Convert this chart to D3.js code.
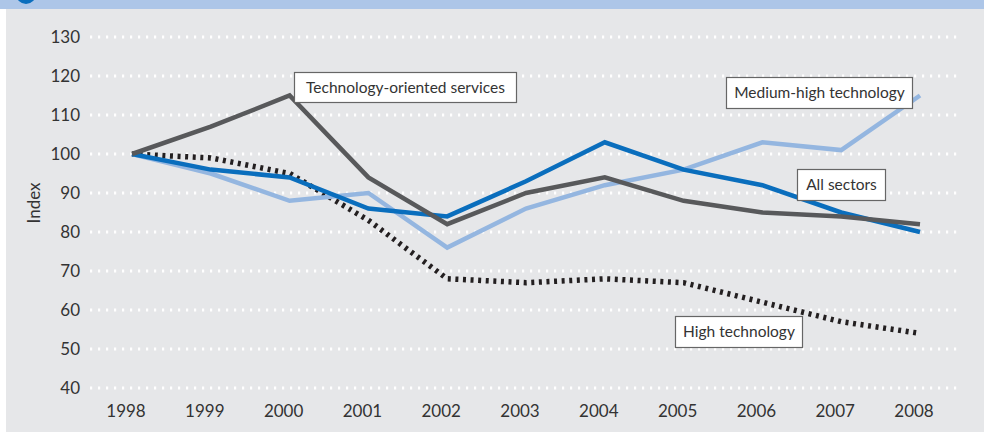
<!DOCTYPE html>
<html>
<head>
<meta charset="utf-8">
<script src="https://cdn.jsdelivr.net/npm/d3@7"></script>
<style>
  html, body { margin: 0; padding: 0; background: #ffffff; }
  svg { display: block; font-family: Lato, "Noto Sans", sans-serif; }
</style>
</head>
<body>
<svg id="chart" width="984" height="432"></svg>
<script>
// Years on the horizontal axis
const years = [1998, 1999, 2000, 2001, 2002, 2003, 2004, 2005, 2006, 2007, 2008];

// Index values, 1998 = 100
const techServices   = [100, 107, 115, 94, 82, 90, 94, 88, 85, 84, 82];
const allSectors     = [100, 96, 94, 86, 84, 93, 103, 96, 92, 85, 80];
const mediumHighTech = [100, 95, 88, 90, 76, 86, 92, 96, 103, 101, 115];
const highTech       = [100, 99, 95, 83, 68, 67, 68, 67, 62, 57, 54];

// Vertical axis ticks
const yTicks = [40, 50, 60, 70, 80, 90, 100, 110, 120, 130];

const svg = d3.select("#chart");
const W = 984, H = 432;

// Header strip and panel
svg.append("rect").attr("x", 0).attr("y", 0).attr("width", W).attr("height", 9).attr("fill", "#adc6e8");
svg.append("circle").attr("cx", 26).attr("cy", -6).attr("r", 10).attr("fill", "#0a6ebd");
svg.append("rect").attr("x", 6).attr("y", 9).attr("width", W - 6).attr("height", H - 9).attr("fill", "#e6e7e9");

const x = d3.scaleLinear().domain([1998, 2008]).range([132, 920]);
const y = d3.scaleLinear().domain([40, 130]).range([388, 37]);

// Dotted horizontal gridlines
svg.append("g").selectAll("line").data(yTicks).join("line")
  .attr("x1", 90).attr("x2", 957)
  .attr("y1", d => y(d)).attr("y2", d => y(d))
  .attr("stroke", "#ffffff").attr("stroke-width", 3)
  .attr("stroke-dasharray", "2.2 5.8");

// Y axis labels
const yAxis = svg.append("g").attr("transform", "translate(80,0)")
  .call(d3.axisLeft(y).tickValues(yTicks).tickSize(0).tickPadding(0));
yAxis.select(".domain").remove();
yAxis.selectAll("text").attr("font-size", 17).attr("fill", "#333333")
  .attr("font-family", "Lato, sans-serif");

// X axis labels
const xAxis = svg.append("g").attr("transform", "translate(-6.5,401)")
  .call(d3.axisBottom(x).tickValues(years).tickFormat(d3.format("d")).tickSize(0).tickPadding(4));
xAxis.select(".domain").remove();
xAxis.selectAll("text").attr("font-size", 17).attr("fill", "#333333")
  .attr("font-family", "Lato, sans-serif");

// Axis title
svg.append("text")
  .attr("transform", "translate(40,203) rotate(-90)")
  .attr("text-anchor", "middle")
  .attr("font-size", 17).attr("fill", "#333333")
  .text("Index");

const line = d3.line().x((d, i) => x(years[i])).y(d => y(d));

function drawSeries(values, color, width, dash) {
  const p = svg.append("path").datum(values)
    .attr("d", line)
    .attr("fill", "none")
    .attr("stroke", color)
    .attr("stroke-width", width)
    .attr("stroke-linejoin", "miter");
  if (dash) p.attr("stroke-dasharray", dash);
}

drawSeries(highTech, "#231f20", 5.5, "3 4.6");
drawSeries(mediumHighTech, "#94b6e0", 4.5);
drawSeries(allSectors, "#0a6ebd", 4.5);
drawSeries(techServices, "#58595b", 4.5);

// Series labels in boxes
function labelBox(text, bx, by, bw, bh) {
  const g = svg.append("g");
  g.append("rect").attr("x", bx + 0.5).attr("y", by + 0.5).attr("width", bw).attr("height", bh)
    .attr("fill", "#ffffff").attr("stroke", "#666666").attr("stroke-width", 1.2);
  g.append("text").attr("x", bx + bw / 2 + 0.5).attr("y", by + bh / 2 + 5.5)
    .attr("text-anchor", "middle").attr("font-size", 15.5).attr("fill", "#333333")
    .text(text);
}

labelBox("Technology-oriented services", 294, 72, 222, 30);
labelBox("Medium-high technology", 726, 77, 186, 31);
labelBox("All sectors", 797, 169, 88, 31);
labelBox("High technology", 675, 316, 127, 31);
</script>
</body>
</html>
